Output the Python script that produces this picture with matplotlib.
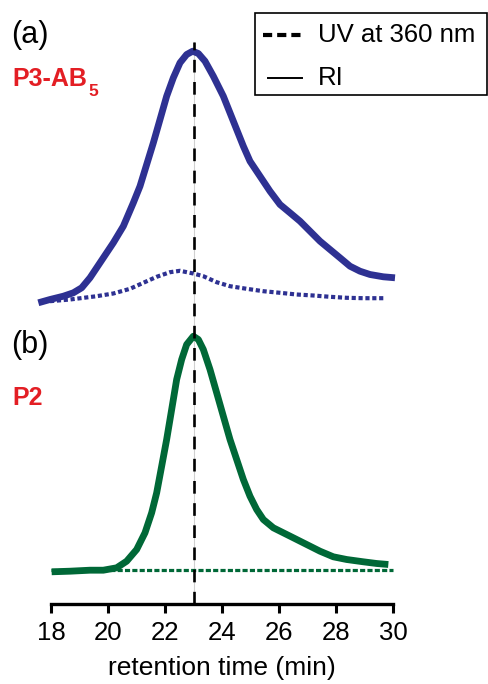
import matplotlib
matplotlib.use("Agg")
import matplotlib.pyplot as plt
from matplotlib.patches import Rectangle

plt.rcParams['font.family'] = ['Liberation Sans', 'DejaVu Sans']

# ---- data (retention time in min, signal in display units incl. stacking offsets) ----
t_ri_a = [17.556, 17.965, 18.433, 18.784, 19.076, 19.368, 19.719, 20.187, 20.538, 20.889,
          21.123, 21.357, 21.591, 21.825, 22.058, 22.292, 22.526, 22.760, 22.971, 23.170,
          23.404, 23.696, 24.047, 24.398, 24.749, 24.982, 25.333, 25.684, 26.035, 26.386,
          26.737, 27.088, 27.439, 27.789, 28.140, 28.491, 28.842, 29.193, 29.661, 30.070]
ri_a = [3.007, 3.040, 3.073, 3.107, 3.157, 3.257, 3.407, 3.607, 3.773, 4.007,
        4.173, 4.390, 4.607, 4.840, 5.073, 5.257, 5.407, 5.490, 5.523, 5.500,
        5.423, 5.273, 5.073, 4.823, 4.573, 4.423, 4.273, 4.123, 3.990, 3.907,
        3.823, 3.723, 3.623, 3.540, 3.457, 3.373, 3.323, 3.290, 3.267, 3.257]

t_uv_a = [17.965, 18.667, 19.602, 20.187, 20.772, 21.240, 21.708, 22.175, 22.526, 22.994,
          23.345, 23.813, 24.281, 24.865, 25.450, 26.035, 26.620, 27.205, 27.789, 28.374,
          28.959, 29.661]
uv_a = [3.023, 3.040, 3.073, 3.100, 3.147, 3.207, 3.267, 3.313, 3.327, 3.300,
        3.273, 3.213, 3.173, 3.147, 3.123, 3.107, 3.090, 3.080, 3.067, 3.057,
        3.053, 3.053]

t_ri_b = [18.023, 18.667, 19.368, 19.836, 20.304, 20.655, 21.006, 21.298, 21.532, 21.708,
          21.883, 22.058, 22.234, 22.409, 22.585, 22.760, 22.994, 23.170, 23.345, 23.579,
          23.813, 24.047, 24.281, 24.515, 24.749, 24.982, 25.216, 25.450, 25.801, 26.152,
          26.503, 26.971, 27.439, 27.906, 28.374, 28.959, 29.427, 29.836]
ri_b = [0.317, 0.323, 0.333, 0.333, 0.357, 0.423, 0.540, 0.707, 0.907, 1.107,
        1.373, 1.640, 1.940, 2.240, 2.440, 2.590, 2.673, 2.640, 2.540, 2.340,
        2.107, 1.873, 1.640, 1.440, 1.240, 1.073, 0.940, 0.840, 0.757, 0.707,
        0.657, 0.590, 0.523, 0.467, 0.440, 0.417, 0.400, 0.390]

t_uv_b = [18.0, 30.0]
uv_b = [0.34, 0.34]

peak_time = 23.0
peak_line_top = 5.62
xticks = [18, 20, 22, 24, 26, 28, 30]
panel_labels = ['(a)', '(b)']
sample_labels = ['P3-AB', 'P2']
sample_sub = '5'
legend_labels = ['UV at 360 nm', 'RI']

BLUE = '#2e3192'
GREEN = '#006837'
RED = '#e31e24'

W, H = 488, 684
fig = plt.figure(figsize=(W / 100, H / 100), dpi=100)
ax = fig.add_axes([51 / W, (H - 603.5) / H, 342 / W, 603.5 / H])

ax.set_xlim(18, 30)
ax.set_ylim(0, 6.035)

# reference line at peak time
ax.plot([peak_time, peak_time], [0, peak_line_top], color='#d0d0d0', lw=0.8, zorder=1)
ax.plot([peak_time, peak_time], [0, peak_line_top], color='black', lw=1.9,
        dashes=(4.8, 3.6), zorder=4)

ax.plot(t_ri_a, ri_a, color=BLUE, lw=4.9, solid_capstyle='butt', solid_joinstyle='round',
        clip_on=False, zorder=3)
ax.plot(t_uv_a, uv_a, color=BLUE, lw=3.0, dashes=(1.0, 0.65), clip_on=False, zorder=3)
ax.plot(t_ri_b, ri_b, color=GREEN, lw=4.9, solid_capstyle='butt', solid_joinstyle='round',
        clip_on=False, zorder=3)
ax.plot(t_uv_b, uv_b, color=GREEN, lw=2.3, dashes=(1.6, 0.7), clip_on=False, zorder=2)

for s in ['left', 'right', 'top']:
    ax.spines[s].set_visible(False)
ax.spines['bottom'].set_linewidth(2.4)
ax.set_yticks([])
ax.set_xticks(xticks)
ax.tick_params(axis='x', direction='out', length=6.5, width=2.2, labelsize=18.5, pad=6)
ax.set_xlabel('retention time (min)', fontsize=19, labelpad=8)

# overlay in pixel coordinates for annotations and legend
ov = fig.add_axes([0, 0, 1, 1], facecolor='none')
ov.set_xlim(0, W)
ov.set_ylim(H, 0)
ov.axis('off')

ov.text(11, 35, panel_labels[0], fontsize=22, va='center', ha='left')
ov.text(11, 345, panel_labels[1], fontsize=22, va='center', ha='left')
ov.text(12, 79, sample_labels[0], fontsize=18, fontweight='bold', color=RED,
        va='center', ha='left')
ov.text(88, 92, sample_sub, fontsize=12.5, fontweight='bold', color=RED,
        va='center', ha='left')
ov.text(12, 398, sample_labels[1], fontsize=18, fontweight='bold', color=RED,
        va='center', ha='left')

ov.add_patch(Rectangle((254.5, 12.5), 232, 82.5, fill=False, edgecolor='black', lw=1.2))
ov.plot([263, 304], [35, 35], color='black', lw=3.0, dashes=(2.2, 1.2))
ov.plot([268, 302], [78, 78], color='black', lw=1.4)
ov.text(318, 35, legend_labels[0], fontsize=18.5, va='center', ha='left')
ov.text(318, 78, legend_labels[1], fontsize=18.5, va='center', ha='left')

fig.savefig('out.png', dpi=100)
